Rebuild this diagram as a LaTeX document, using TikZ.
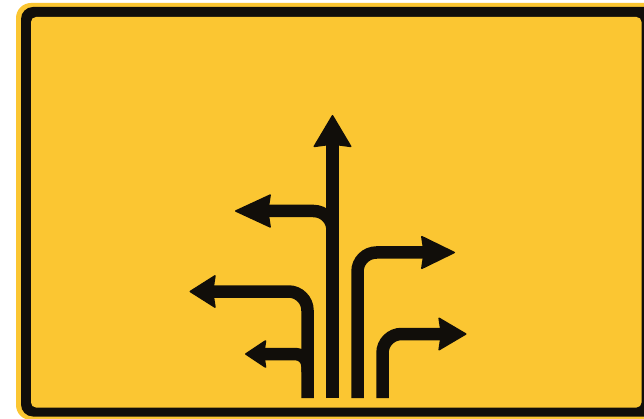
\documentclass[tikz,border=0pt]{standalone}
\usetikzlibrary{arrows.meta}
\definecolor{signyellow}{RGB}{251,198,50}
\definecolor{signblack}{RGB}{17,14,10}

\begin{document}
\begin{tikzpicture}[x=1pt,y=-1pt,
    roadarrow/.style={signblack,line width=12.5pt,rounded corners=19pt,
      -{Stealth[length=#1,width=34pt,inset=2.5pt,line width=1.5pt,round]}},
    roadarrow/.default=34pt]
    \useasboundingbox (0,0) rectangle (644,419);
    \fill[white] (0,0) rectangle (644,419);
    \clip (0,0) rectangle (644,419);

    % Sign plate
    \fill[signyellow,rounded corners=15pt] (16,3) rectangle (700,420);
    \fill[signblack,rounded corners=12pt] (21,7) rectangle (690,416.5);
    \fill[signyellow,rounded corners=5pt] (31,17) rectangle (641.5,407.5);

    % Straight ahead
    \draw[roadarrow,-{Stealth[length=33pt,width=39pt,inset=2.5pt,line width=1.5pt,round]}] (332.5,398) -- (332.5,115);

    % Branches to the left
    \draw[roadarrow=37pt] (332.5,250) |- (235,211);
    \draw[roadarrow=27pt] (307.5,398) |- (189.5,291.5);
    \draw[roadarrow,rounded corners=12pt,-{Stealth[length=22pt,width=29pt,inset=2pt,line width=1.5pt,round]}] (307.5,372) |- (245,354);

    % Branches to the right
    \draw[roadarrow=35pt] (357.5,398) |- (455,252.5);
    \draw[roadarrow=29pt] (382.5,398) |- (466.5,334);
\end{tikzpicture}
\end{document}
